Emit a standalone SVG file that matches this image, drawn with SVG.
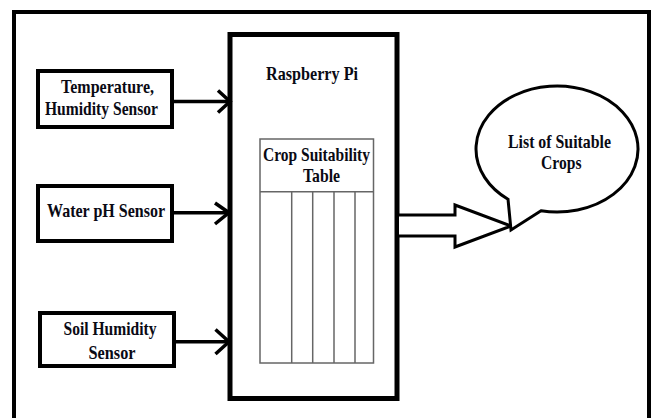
<svg xmlns="http://www.w3.org/2000/svg" width="654" height="418" viewBox="0 0 654 418">
  <style>
    text { font-family: "Liberation Serif", "Times New Roman", serif; font-weight: bold; font-size: 19.5px; fill: #0a0a14; }
    .box { fill: #fff; stroke: #000; stroke-width: 4; }
    .conn { fill: none; stroke: #000; stroke-width: 3.5; }
    .tbl { fill: none; stroke: #666; stroke-width: 1.5; }
  </style>
  <rect x="0" y="0" width="654" height="418" fill="#fff"/>
  <g id="frame">
    <path d="M14,420 V12 H649 V420" fill="none" stroke="#000" stroke-width="4"/>
  </g>
  <g id="sensor-temp-humidity">
    <rect class="box" x="38" y="71" width="134" height="56"/>
    <text x="61" y="92.5" textLength="93" lengthAdjust="spacingAndGlyphs">Temperature,</text>
    <text x="45" y="115" textLength="113" lengthAdjust="spacingAndGlyphs">Humidity Sensor</text>
  </g>
  <g id="sensor-water-ph">
    <rect class="box" x="38" y="186" width="134" height="55"/>
    <text x="47" y="217" textLength="118" lengthAdjust="spacingAndGlyphs">Water pH Sensor</text>
  </g>
  <g id="sensor-soil-humidity">
    <rect class="box" x="40" y="313" width="134" height="53"/>
    <text x="63.5" y="335" textLength="93" lengthAdjust="spacingAndGlyphs">Soil Humidity</text>
    <text x="88.5" y="358.5" textLength="47" lengthAdjust="spacingAndGlyphs">Sensor</text>
  </g>
  <g id="raspberry-pi">
    <rect x="230" y="34.5" width="167" height="364" fill="#fff" stroke="#000" stroke-width="5"/>
    <text x="266" y="79.5" textLength="92" lengthAdjust="spacingAndGlyphs">Raspberry Pi</text>
    <g id="crop-suitability-table">
      <rect class="tbl" x="260" y="139" width="113.5" height="224"/>
      <line class="tbl" x1="260" y1="191.7" x2="373.5" y2="191.7"/>
      <line class="tbl" x1="291.7" y1="191.7" x2="291.7" y2="363"/>
      <line class="tbl" x1="312.7" y1="191.7" x2="312.7" y2="363"/>
      <line class="tbl" x1="334" y1="191.7" x2="334" y2="363"/>
      <line class="tbl" x1="355" y1="191.7" x2="355" y2="363"/>
      <text x="263" y="161" textLength="107" lengthAdjust="spacingAndGlyphs">Crop Suitability</text>
      <text x="303" y="181.7" textLength="37" lengthAdjust="spacingAndGlyphs">Table</text>
    </g>
  </g>
  <g id="connectors">
    <line class="conn" x1="174" y1="101.5" x2="229" y2="101.5"/>
    <polyline class="conn" points="218,90.5 230,101.5 218,112.5"/>
    <line class="conn" x1="174" y1="212.7" x2="229" y2="212.7"/>
    <polyline class="conn" points="215,203 229,212.7 215,224"/>
    <line class="conn" x1="176" y1="341.7" x2="229" y2="341.7"/>
    <polyline class="conn" points="215.5,329.5 229,341.7 215.5,354"/>
    <polyline points="399,215 455,215 455,205 511,226 455,247 455,236 399,236" fill="#fff" stroke="#000" stroke-width="3"/>
  </g>
  <g id="list-of-suitable-crops">
    <path d="M541,210.8 A81,63 0 1 0 508,199.2 L511,230 Z" fill="#fff" stroke="#000" stroke-width="3" stroke-linejoin="miter"/>
    <text x="508" y="148" textLength="103" lengthAdjust="spacingAndGlyphs">List of Suitable</text>
    <text x="541" y="168.7" textLength="40.5" lengthAdjust="spacingAndGlyphs">Crops</text>
  </g>
</svg>
